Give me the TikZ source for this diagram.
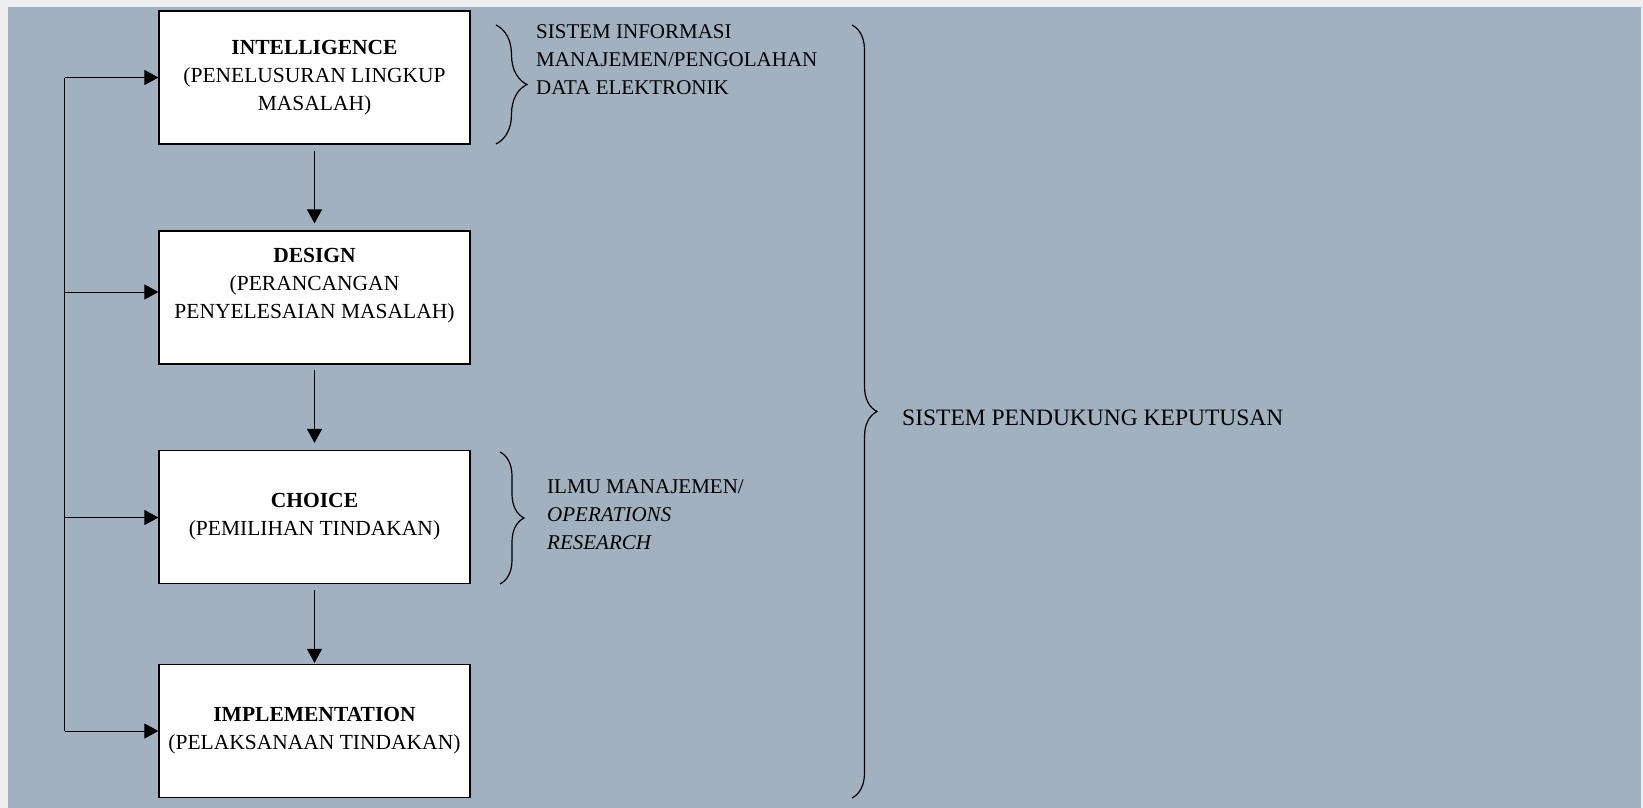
\documentclass[tikz,border=0pt]{standalone}
\usepackage{fontspec}
\setmainfont{Liberation Serif}
\usetikzlibrary{arrows.meta}
\usetikzlibrary{decorations.pathreplacing}
\usetikzlibrary{positioning}
\definecolor{panel}{RGB}{162,177,192}
\definecolor{margin}{RGB}{238,238,238}

\begin{document}
\begin{tikzpicture}[x=1pt,y=-1pt,
	phase/.style={draw,line width=1.2pt,fill=white,minimum width=311pt,minimum height=133pt,inner sep=0pt,align=center,font=\fontsize{21.5}{28.3}\selectfont},
	link/.style={line width=1pt,-{Triangle[length=14pt,width=15pt]}},
	note/.style={inner sep=0pt,align=left,anchor=north west,font=\fontsize{21}{28}\selectfont},
	curly/.style={line width=1.2pt,decorate,decoration={brace,amplitude=#1}}]
	\fill[margin] (0,0) rectangle (1643,808);
	\fill[panel] (8,7) rectangle (1641,808);
	\useasboundingbox (0,0) rectangle (1643,808);

	\node[phase] (intel) at (314.5,77.5) {\textbf{INTELLIGENCE}\\(PENELUSURAN LINGKUP\\MASALAH)};
	\node[phase] (design) at (314.5,297.5) {\textbf{DESIGN}\\(PERANCANGAN\\PENYELESAIAN MASALAH)\\\mbox{}};
	\node[phase] (choice) at (314.5,517) {\textbf{CHOICE}\\(PEMILIHAN TINDAKAN)};
	\node[phase] (impl) at (314.5,731) {\textbf{IMPLEMENTATION}\\(PELAKSANAAN TINDAKAN)};

	\draw[link,shorten <=6pt,shorten >=7pt] (intel) -- (design);
	\draw[link,shorten <=5pt,shorten >=7pt] (design) -- (choice);
	\draw[link,shorten <=6pt,shorten >=1pt] (choice) -- (impl);

	\coordinate (back1) at (64.5,77.5);
	\coordinate (back2) at (64.5,292);
	\coordinate (back3) at (64.5,517.5);
	\coordinate (back4) at (64.5,731);
	\draw[line width=1pt] (back1) -- (back4);
	\draw[link] (back1) -- (back1 -| intel.west);
	\draw[link] (back2) -- (back2 -| design.west);
	\draw[link] (back3) -- (back3 -| choice.west);
	\draw[link] (back4) -- (back4 -| impl.west);

	\coordinate (sia) at (496,25);
	\coordinate (sib) at (496,144);
	\coordinate (ora) at (500,452);
	\coordinate (orb) at (500,584);
	\coordinate (spka) at (852,25);
	\coordinate (spkb) at (852,798);
	\draw[curly=31pt] (sia) -- (sib);
	\draw[curly=24pt] (ora) -- (orb);
	\draw[curly=25pt] (spka) -- (spkb);

	\node[note] (sim) at (536,24) {SISTEM INFORMASI\\MANAJEMEN/PENGOLAHAN\\DATA ELEKTRONIK};
	\node[note] (or) at (547,479) {ILMU MANAJEMEN/\\\textit{OPERATIONS}\\\textit{RESEARCH}};
	\node[inner sep=0pt,anchor=base west,font=\fontsize{23.5}{28}\selectfont] (spk) at (902,425) {SISTEM PENDUKUNG KEPUTUSAN};
\end{tikzpicture}
\end{document}
